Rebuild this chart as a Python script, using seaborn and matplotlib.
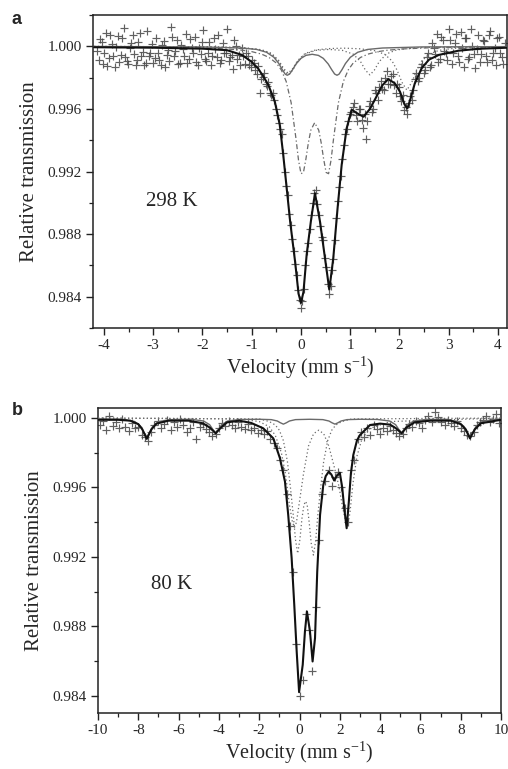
import matplotlib
matplotlib.use("Agg")
import matplotlib.pyplot as plt
from matplotlib.ticker import MultipleLocator, FormatStrFormatter
import seaborn as sns

# ---------------- Panel a (298 K) ----------------
vel_a = [-4.14,-4.08,-4.02,-3.96,-3.90,-3.84,-3.78,-3.72,-3.66,-3.60,
         -3.54,-3.48,-3.42,-3.36,-3.30,-3.24,-3.18,-3.12,-3.06,-3.00,
         -2.94,-2.88,-2.82,-2.76,-2.70,-2.64,-2.58,-2.52,-2.46,-2.40,
         -2.34,-2.28,-2.22,-2.16,-2.10,-2.04,-1.98,-1.92,-1.86,-1.80,
         -1.74,-1.68,-1.62,-1.56,-1.50,-1.44,-1.38,-1.32,-1.26,-1.20,
         -1.14,-1.08,-1.02,-0.96,-0.90,-0.84,-0.78,-0.72,-0.66,-0.60,
         -0.54,-0.48,-0.42,-0.36,-0.30,-0.24,-0.18,-0.12,-0.06,0.00,
         0.06,0.12,0.18,0.24,0.30,0.36,0.42,0.48,0.54,0.60,
         0.66,0.72,0.78,0.84,0.90,0.96,1.02,1.08,1.14,1.20,
         1.26,1.32,1.38,1.44,1.50,1.56,1.62,1.68,1.74,1.80,
         1.86,1.92,1.98,2.04,2.10,2.16,2.22,2.28,2.34,2.40,
         2.46,2.52,2.58,2.64,2.70,2.76,2.82,2.88,2.94,3.00,
         3.06,3.12,3.18,3.24,3.30,3.36,3.42,3.48,3.54,3.60,
         3.66,3.72,3.78,3.84,3.90,3.96,4.02,4.08,4.14]
trans_a = [0.99972,1.00045,0.99885,1.00088,0.99925,1.00012,0.99868,1.00064,0.99945,1.00118,
           0.99905,0.99990,1.00072,0.99882,1.00030,0.99938,0.99880,1.00095,0.99960,0.99892,
           1.00050,0.99915,1.00010,0.99870,0.99975,1.00125,0.99935,1.00040,0.99895,0.99985,
           1.00080,0.99920,0.99990,1.00060,0.99880,0.99950,1.00105,0.99905,1.00025,0.99940,
           0.99985,1.00070,0.99910,0.99960,1.00110,0.99930,0.99855,1.00005,0.99945,0.99990,
           0.99890,0.99935,0.99870,0.99895,0.99820,0.99700,0.99805,0.99760,0.99770,0.99690,
           0.99655,0.99560,0.99470,0.99320,0.99110,0.98930,0.98770,0.98610,0.98440,0.98330,
           0.98450,0.98690,0.98830,0.99000,0.99080,0.98920,0.98780,0.98650,0.98480,0.98470,
           0.98640,0.98900,0.99100,0.99280,0.99440,0.99520,0.99580,0.99640,0.99520,0.99600,
           0.99480,0.99410,0.99620,0.99580,0.99720,0.99660,0.99780,0.99720,0.99840,0.99760,
           0.99820,0.99700,0.99740,0.99650,0.99590,0.99570,0.99680,0.99720,0.99830,0.99800,
           0.99890,0.99850,0.99960,0.99880,0.99990,1.00080,0.99920,1.00040,0.99960,1.00110,
           0.99890,1.00020,0.99940,1.00090,0.99870,1.00050,0.99930,1.00000,0.99860,1.00070,
           0.99950,1.00035,0.99900,1.00100,0.99960,0.99880,1.00060,0.99930,1.00020]

vel_a2 = [-4.11,-4.05,-3.99,-3.93,-3.87,-3.81,-3.75,-3.69,-3.63,-3.57,
          -3.51,-3.45,-3.39,-3.33,-3.27,-3.21,-3.15,-3.09,-3.03,-2.97,
          -2.91,-2.85,-2.79,-2.73,-2.67,-2.61,-2.55,-2.49,-2.43,-2.37,
          -2.31,-2.25,-2.19,-2.13,-2.07,-2.01,-1.95,-1.89,-1.83,-1.77,
          -1.71,-1.65,-1.59,-1.53,-1.47,-1.41,-1.35,-1.29,-1.23,-1.17,
          -1.11,-1.05,-0.99,-0.93,-0.87,-0.81,-0.75,-0.69,-0.63,-0.57,
          -0.51,-0.45,-0.39,-0.33,-0.27,-0.21,-0.15,-0.09,-0.03,0.03,
          0.09,0.15,0.21,0.27,0.33,0.39,0.45,0.51,0.57,0.63,
          0.69,0.75,0.81,0.87,0.93,0.99,1.05,1.11,1.17,1.23,
          1.29,1.35,1.41,1.47,1.53,1.59,1.65,1.71,1.77,1.83,
          1.89,1.95,2.01,2.07,2.13,2.19,2.25,2.31,2.37,2.43,
          2.49,2.55,2.61,2.67,2.73,2.79,2.85,2.91,2.97,3.03,
          3.09,3.15,3.21,3.27,3.33,3.39,3.45,3.51,3.57,3.63,
          3.69,3.75,3.81,3.87,3.93,3.99,4.05,4.11]
trans_a2 = [0.99910,1.00030,0.99960,0.99875,1.00070,0.99940,0.99995,0.99900,1.00050,0.99930,
            0.99885,1.00020,0.99950,0.99910,1.00085,0.99965,0.99895,0.99940,1.00015,0.99925,
            0.99960,0.99880,1.00035,0.99945,0.99905,1.00060,0.99970,0.99890,1.00010,0.99935,
            0.99895,1.00045,0.99960,0.99900,0.99990,1.00030,0.99920,0.99960,0.99880,1.00050,
            0.99930,0.99895,1.00020,0.99960,0.99905,0.99945,1.00040,0.99920,0.99880,0.99940,
            0.99960,0.99880,0.99910,0.99850,0.99875,0.99790,0.99830,0.99745,0.99700,0.99700,
            0.99600,0.99510,0.99440,0.99200,0.99050,0.98860,0.98690,0.98540,0.98380,0.98370,
            0.98600,0.98740,0.98920,0.99060,0.98990,0.98850,0.98760,0.98590,0.98420,0.98570,
            0.98760,0.99010,0.99170,0.99370,0.99470,0.99570,0.99610,0.99560,0.99600,0.99530,
            0.99570,0.99520,0.99650,0.99600,0.99700,0.99740,0.99730,0.99800,0.99760,0.99810,
            0.99750,0.99760,0.99680,0.99690,0.99610,0.99640,0.99660,0.99790,0.99780,0.99870,
            0.99830,0.99930,0.99870,1.00020,0.99950,0.99900,1.00060,0.99970,0.99910,1.00040,
            0.99960,1.00080,0.99900,0.99990,1.00050,0.99920,1.00110,0.99950,0.99980,0.99900,
            1.00040,0.99940,1.00070,0.99910,0.99990,1.00050,0.99960,0.99890]

fit_a_v = [-4.2,-3.0,-2.0,-1.5,-1.2,-1.0,-0.87,-0.75,-0.66,-0.53,-0.43,-0.36,-0.29,-0.22,-0.12,-0.05,
           0.0,0.05,0.115,0.2,0.284,0.386,0.487,0.575,0.656,0.743,0.826,0.926,1.03,1.15,1.27,1.40,
           1.53,1.65,1.77,1.90,2.01,2.10,2.16,2.22,2.31,2.45,2.60,2.80,3.2,3.6,4.2]
fit_a_t = [0.99994,0.99991,0.99985,0.99975,0.99945,0.99900,0.99858,0.99800,0.99751,0.99645,0.99497,
           0.99305,0.99093,0.98880,0.98625,0.98420,0.98360,0.98430,0.98668,0.98880,0.99061,0.98880,
           0.98647,0.98445,0.98647,0.98966,0.99242,0.99475,0.99595,0.99570,0.99550,0.99600,0.99677,
           0.99750,0.99790,0.99765,0.99710,0.99630,0.99603,0.99660,0.99762,0.99860,0.99915,0.99945,
           0.99972,0.99984,0.99991]

dd_a_v = [-4.2,-3.0,-2.0,-1.5,-1.2,-1.0,-0.8,-0.65,-0.5,-0.4,-0.3,-0.2,-0.1,-0.05,0.0,0.05,0.1,0.15,
          0.2,0.278,0.36,0.41,0.46,0.51,0.56,0.61,0.66,0.76,0.86,0.96,1.06,1.21,1.36,1.56,1.76,
          2.06,2.56,3.56,4.2]
dd_a_t = [0.99997,0.99995,0.99990,0.99983,0.99975,0.99966,0.99950,0.99929,0.99893,0.99849,0.99775,
          0.99640,0.99406,0.99272,0.99186,0.99194,0.99280,0.99384,0.99464,0.99512,0.99464,0.99384,
          0.99280,0.99194,0.99186,0.99272,0.99406,0.99640,0.99775,0.99849,0.99893,0.99929,0.99950,
          0.99966,0.99975,0.99983,0.99990,0.99995,0.99996]

sd_a_v = [-4.2,-2.0,-1.2,-0.9,-0.7,-0.55,-0.45,-0.38,-0.32,-0.278,-0.23,-0.17,-0.1,0.0,0.1,0.2265,
          0.353,0.453,0.553,0.623,0.683,0.731,0.773,0.833,0.903,1.003,1.153,1.353,1.653,2.453,4.2]
sd_a_t = [0.99999,0.99996,0.99989,0.99980,0.99962,0.99930,0.99890,0.99851,0.99822,0.99815,0.99823,
          0.99851,0.99887,0.99923,0.99942,0.99949,0.99942,0.99923,0.99887,0.99851,0.99823,0.99815,
          0.99822,0.99851,0.99890,0.99930,0.99962,0.99980,0.99989,0.99996,0.99998]

dotA_a_v = [-4.2,-2.0,-1.2,-0.8,-0.6,-0.45,-0.35,-0.26,-0.17,-0.07,0.08,0.3,0.57,0.84,1.06,1.21,
            1.31,1.40,1.49,1.59,1.74,1.94,2.34,3.14,4.2]
dotA_a_t = [0.99999,0.99997,0.99991,0.99977,0.99952,0.99903,0.99848,0.99817,0.99847,0.99902,0.99950,
            0.99974,0.99980,0.99974,0.99950,0.99902,0.99847,0.99817,0.99848,0.99903,0.99952,0.99977,
            0.99991,0.99997,0.99998]

dotB_a_v = [-4.2,-2.0,-1.2,-0.8,-0.6,-0.45,-0.35,-0.26,-0.17,-0.07,0.08,0.3,0.6,0.9,1.2,1.5,1.7,
            1.85,1.95,2.05,2.15,2.25,2.35,2.45,2.6,2.8,3.1,3.6,4.2]
dotB_a_t = [0.99999,0.99997,0.99992,0.99978,0.99955,0.99909,0.99857,0.99828,0.99857,0.99908,0.99954,
            0.99977,0.99986,0.99988,0.99984,0.99972,0.99949,0.99906,0.99848,0.99770,0.99720,0.99770,
            0.99848,0.99906,0.99949,0.99974,0.99987,0.99994,0.99997]

# ---------------- Panel b (80 K) ----------------
vel_b = [-9.92,-9.76,-9.60,-9.44,-9.28,-9.12,-8.96,-8.80,-8.64,-8.48,
         -8.32,-8.16,-8.00,-7.84,-7.68,-7.52,-7.36,-7.20,-7.04,-6.88,
         -6.72,-6.56,-6.40,-6.24,-6.08,-5.92,-5.76,-5.60,-5.44,-5.28,
         -5.12,-4.96,-4.80,-4.64,-4.48,-4.32,-4.16,-4.00,-3.84,-3.68,
         -3.52,-3.36,-3.20,-3.04,-2.88,-2.72,-2.56,-2.40,-2.24,-2.08,
         -1.92,-1.76,-1.60,-1.44,-1.28,-1.12,-0.96,-0.80,-0.64,-0.48,
         -0.32,-0.16,0.00,0.16,0.32,0.48,0.64,0.80,0.96,1.12,
         1.28,1.44,1.60,1.76,1.92,2.08,2.24,2.40,2.56,2.72,
         2.88,3.04,3.20,3.36,3.52,3.68,3.84,4.00,4.16,4.32,
         4.48,4.64,4.80,4.96,5.12,5.28,5.44,5.60,5.76,5.92,
         6.08,6.24,6.40,6.56,6.72,6.88,7.04,7.20,7.36,7.52,
         7.68,7.84,8.00,8.16,8.32,8.48,8.64,8.80,8.96,9.12,
         9.28,9.44,9.60,9.76,9.92]
trans_b = [0.99960,0.99985,0.99930,1.00010,0.99955,0.99975,0.99940,0.99995,0.99950,0.99925,
           0.99970,0.99940,0.99950,0.99905,0.99890,0.99870,0.99920,0.99960,0.99985,0.99945,
           0.99965,0.99990,0.99930,0.99975,0.99950,0.99995,0.99960,0.99920,0.99945,0.99975,
           0.99880,0.99950,0.99965,0.99935,0.99920,0.99895,0.99910,0.99940,0.99970,0.99955,
           0.99985,0.99960,0.99940,0.99975,0.99950,0.99935,0.99965,0.99930,0.99945,0.99915,
           0.99930,0.99910,0.99925,0.99880,0.99855,0.99830,0.99760,0.99700,0.99560,0.99380,
           0.99110,0.98700,0.98400,0.98490,0.98870,0.98780,0.98540,0.98910,0.99300,0.99560,
           0.99640,0.99700,0.99610,0.99660,0.99690,0.99600,0.99480,0.99400,0.99700,0.99760,
           0.99880,0.99920,0.99890,0.99945,0.99905,0.99960,0.99935,0.99910,0.99945,0.99925,
           0.99955,0.99930,0.99915,0.99895,0.99910,0.99940,0.99965,0.99950,0.99985,0.99970,
           0.99945,0.99990,1.00010,0.99975,1.00035,1.00005,0.99980,0.99960,0.99990,0.99970,
           0.99955,0.99985,0.99945,0.99925,0.99900,0.99895,0.99920,0.99960,0.99975,0.99990,
           1.00010,0.99980,0.99995,1.00025,0.99970]

fit_b_v = [-10.0,-9.0,-8.4,-8.0,-7.8,-7.58,-7.35,-7.1,-6.5,-5.5,-4.8,-4.45,-4.16,-3.9,-3.6,-3.0,
           -2.4,-1.8,-1.3,-0.97,-0.72,-0.56,-0.39,-0.26,-0.14,-0.02,0.16,0.27,0.37,0.52,0.65,0.77,
           0.88,1.02,1.18,1.30,1.45,1.58,1.72,1.87,2.00,2.12,2.22,2.34,2.45,2.55,2.67,2.85,3.0,
           3.5,4.0,4.5,4.8,5.07,5.3,5.7,6.5,7.5,8.0,8.25,8.46,8.7,9.0,10.0]
fit_b_t = [0.99990,0.99990,0.99985,0.99965,0.99935,0.99880,0.99935,0.99968,0.99985,0.99985,0.99970,
           0.99945,0.99912,0.99945,0.99975,0.99985,0.99972,0.99941,0.99883,0.99768,0.99633,0.99442,
           0.99193,0.98924,0.98655,0.98420,0.98578,0.98770,0.98885,0.98770,0.98597,0.98732,0.99115,
           0.99442,0.99614,0.99665,0.99691,0.99675,0.99640,0.99670,0.99685,0.99600,0.99480,0.99365,
           0.99520,0.99680,0.99787,0.99870,0.99902,0.99960,0.99968,0.99962,0.99940,0.99912,0.99945,
           0.99975,0.99985,0.99985,0.99965,0.99935,0.99883,0.99935,0.99970,0.99990]

sext_b_v = [-10,-8.8,-8.18,-7.88,-7.73,-7.58,-7.43,-7.28,-6.98,-6.38,-5.4,-4.76,-4.46,-4.31,-4.16,
            -4.01,-3.86,-3.56,-2.96,-2.0,-1.4,-1.1,-0.95,-0.80,-0.65,-0.5,-0.2,0.5,1.16,1.46,1.61,
            1.76,1.91,2.06,2.36,3.0,3.87,4.47,4.77,4.92,5.07,5.22,5.37,5.67,6.27,7.26,7.86,8.16,
            8.31,8.46,8.61,8.76,9.06,9.66,10]
sext_b_t = [0.99995,0.99993,0.99980,0.99952,0.99918,0.99890,0.99918,0.99952,0.99980,0.99991,0.99993,
            0.99983,0.99962,0.99936,0.99915,0.99936,0.99962,0.99983,0.99992,0.99993,0.99991,0.99983,
            0.99973,0.99965,0.99973,0.99983,0.99991,0.99993,0.99991,0.99983,0.99973,0.99965,0.99973,
            0.99983,0.99991,0.99993,0.99992,0.99983,0.99962,0.99936,0.99915,0.99936,0.99962,0.99983,
            0.99992,0.99993,0.99980,0.99952,0.99918,0.99890,0.99918,0.99952,0.99980,0.99991,0.99995]

dotc_b_v = [-10,-2.0,-1.5,-1.2,-1.0,-0.8,-0.6,-0.45,-0.3,-0.2,-0.09,0.02,0.12,0.22,0.30,0.38,0.48,
            0.58,0.69,0.80,0.90,1.05,1.2,1.4,1.6,1.8,2.1,2.6,10]
dotc_b_t = [1.0,0.99995,0.9998,0.9996,0.9993,0.9987,0.9975,0.9960,0.9943,0.9930,0.9922,0.9930,0.9942,
            0.9950,0.9952,0.9950,0.9940,0.9928,0.9921,0.9929,0.9943,0.9960,0.9975,0.9987,0.9993,
            0.9996,0.9998,0.99995,1.0]

dotf_b_v = [-10,-3.0,-2.0,-1.5,-1.2,-0.9,-0.7,-0.5,-0.35,-0.25,-0.15,0.0,0.2,0.45,0.7,0.95,1.2,1.45,
            1.7,1.95,2.15,2.3,2.38,2.5,2.65,2.85,3.1,3.5,4.5,10]
dotf_b_t = [1.0,0.99995,0.9998,0.9995,0.9990,0.9980,0.9968,0.9950,0.9940,0.9937,0.9940,0.9952,0.9968,
            0.9984,0.9991,0.9993,0.9991,0.9984,0.9973,0.9961,0.9948,0.9940,0.9938,0.9945,0.9962,
            0.9978,0.9988,0.9994,0.9998,1.0]

# ---------------- Styling ----------------
sns.set_style("ticks")
plt.rcParams['font.family'] = ['Liberation Serif', 'DejaVu Serif']
plt.rcParams['mathtext.fontset'] = 'custom'
plt.rcParams['mathtext.rm'] = 'Liberation Serif'
plt.rcParams['mathtext.it'] = 'Liberation Serif:italic'

fig = plt.figure(figsize=(5.08, 7.69), dpi=100)
W, H = 508.0, 769.0
ax1 = fig.add_axes([93/W, 1-328/H, (507-93)/W, (328-15)/H])
ax2 = fig.add_axes([98/W, 1-713/H, (501-98)/W, (713-408)/H])

comp_col = '#6a6a6a'
pt_col = '#444444'

def scatter(ax, x, y):
    sns.scatterplot(x=x, y=y, ax=ax, marker='+', s=30, color=pt_col,
                    linewidth=0.85, alpha=0.85, zorder=2, legend=False)

def line(ax, x, y, **kw):
    sns.lineplot(x=x, y=y, ax=ax, estimator=None, legend=False, **kw)

# Panel a
scatter(ax1, vel_a, trans_a)
scatter(ax1, vel_a2, trans_a2)
line(ax1, dotA_a_v, dotA_a_t, color=comp_col, lw=0.9, linestyle=(0, (1, 2)), zorder=3)
line(ax1, dotB_a_v, dotB_a_t, color=comp_col, lw=0.9, linestyle=(0, (1, 2)), zorder=3)
line(ax1, dd_a_v, dd_a_t, color=comp_col, lw=0.9, linestyle=(0, (4, 2, 1, 2)), zorder=3)
line(ax1, sd_a_v, sd_a_t, color=comp_col, lw=1.0, linestyle='-', zorder=3)
line(ax1, fit_a_v, fit_a_t, color='#111111', lw=1.5, linestyle='-', zorder=4)

# Panel b
scatter(ax2, vel_b, trans_b)
line(ax2, dotc_b_v, dotc_b_t, color=comp_col, lw=0.9, linestyle=(0, (1, 2)), zorder=3)
line(ax2, dotf_b_v, dotf_b_t, color=comp_col, lw=0.9, linestyle=(0, (1, 2)), zorder=3)
line(ax2, sext_b_v, sext_b_t, color=comp_col, lw=1.0, linestyle='-', zorder=3)
line(ax2, fit_b_v, fit_b_t, color='#111111', lw=1.5, linestyle='-', zorder=4)

ax1.set_xlim(-4.223, 4.183)
ax1.set_ylim(0.9820, 1.0020)
ax2.set_xlim(-10, 10)
ax2.set_ylim(0.9830, 1.00058)

for ax in (ax1, ax2):
    ax.yaxis.set_major_locator(MultipleLocator(0.004))
    ax.yaxis.set_minor_locator(MultipleLocator(0.002))
    ax.yaxis.set_major_formatter(FormatStrFormatter('%.3f'))
    ax.tick_params(which='major', direction='out', length=5, width=1.0,
                   labelsize=11, pad=3, color='#222222')
    ax.tick_params(which='minor', direction='out', length=3, width=0.9, color='#222222')
    ax.tick_params(top=False, right=False, which='both')
    for s in ax.spines.values():
        s.set_linewidth(1.1)
        s.set_color('#222222')
    ax.set_ylabel('Relative transmission', fontsize=15, labelpad=6)
    ax.set_xlabel('Velocity (mm s$^{\\mathregular{-1}}$)', fontsize=14.5, labelpad=2)

ax1.xaxis.set_major_locator(MultipleLocator(1))
ax1.xaxis.set_minor_locator(MultipleLocator(0.5))
ax2.xaxis.set_major_locator(MultipleLocator(2))
ax2.xaxis.set_minor_locator(MultipleLocator(1))
ax1.xaxis.set_major_formatter(FormatStrFormatter('%d'))
ax2.xaxis.set_major_formatter(FormatStrFormatter('%d'))

ax1.text(-3.15, 0.9901, '298 K', fontsize=15, va='center', ha='left')
ax2.text(-7.37, 0.9904, '80 K', fontsize=15, va='center', ha='left')

fig.text(12/W, 1-20/H, 'a', fontsize=13, fontweight='bold',
         family=['Liberation Sans', 'DejaVu Sans'], va='center', ha='left')
fig.text(12/W, 1-410/H, 'b', fontsize=13, fontweight='bold',
         family=['Liberation Sans', 'DejaVu Sans'], va='center', ha='left')

fig.savefig('out.png', dpi=100)
